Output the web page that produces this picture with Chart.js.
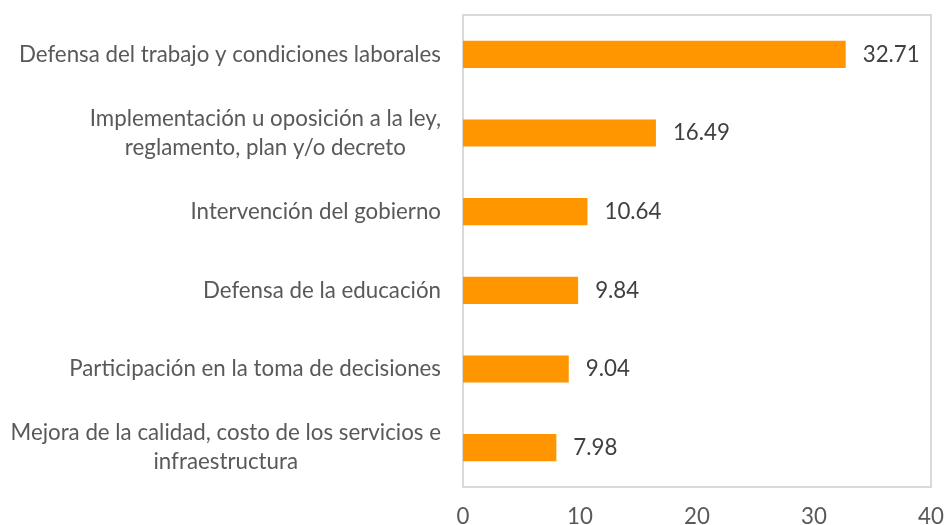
<!DOCTYPE html>
<html>
<head>
<meta charset="utf-8">
<script src="https://cdn.jsdelivr.net/npm/chart.js@4"></script>
<style>
  html, body { margin: 0; padding: 0; background: #fff; overflow: hidden; }
  #wrap { width: 946px; height: 545px; position: relative; }
</style>
</head>
<body>
<div id="wrap"><canvas id="myChart"></canvas></div>
<script>
var categories = [
    ['Defensa del trabajo y condiciones laborales'],
    ['Implementación u oposición a la ley,', 'reglamento, plan y/o decreto'],
    ['Intervención del gobierno'],
    ['Defensa de la educación'],
    ['Participación en la toma de decisiones'],
    ['Mejora de la calidad, costo de los servicios e', 'infraestructura']
];
var values = [32.71, 16.49, 10.64, 9.84, 9.04, 7.98];
var xTicks = [0, 10, 20, 30, 40];

var FONT = 'Lato, "Open Sans", sans-serif';
var FSIZE = 22.3;

// box round the plot area
var boxPlugin = {
    id: 'box',
    beforeDatasetsDraw: function(chart) {
        var a = chart.chartArea, c = chart.ctx;
        c.save();
        c.strokeStyle = '#D9D9D9';
        c.lineWidth = 2;
        c.strokeRect(a.left, a.top, a.right - a.left, a.bottom - a.top);
        c.restore();
    }
};

// category labels: block right-aligned, lines centred within block
var catLabels = {
    id: 'catLabels',
    afterDraw: function(chart) {
        var c = chart.ctx, ys = chart.scales.y;
        var right = chart.chartArea.left - 22;
        var lh = 29;
        c.save();
        c.font = FSIZE + 'px ' + FONT;
        c.fillStyle = '#595959';
        c.textAlign = 'center';
        c.textBaseline = 'middle';
        categories.forEach(function(lines, i) {
            var y = ys.getPixelForValue(i);
            var w = 0;
            lines.forEach(function(l) { w = Math.max(w, c.measureText(l).width); });
            var cx = right - w / 2;
            var y0 = y - (lines.length - 1) * lh / 2;
            lines.forEach(function(l, j) { c.fillText(l, cx, y0 + j * lh); });
        });
        c.restore();
    }
};

// value labels right of each bar
var valueLabels = {
    id: 'valueLabels',
    afterDatasetsDraw: function(chart) {
        var c = chart.ctx, meta = chart.getDatasetMeta(0);
        c.save();
        c.font = FSIZE + 'px ' + FONT;
        c.fillStyle = '#404040';
        c.textAlign = 'left';
        c.textBaseline = 'middle';
        meta.data.forEach(function(bar, i) {
            c.fillText(values[i].toFixed(2), bar.x + 17, bar.y);
        });
        c.restore();
    }
};

var ctx = document.getElementById('myChart').getContext('2d');
var chart = new Chart(ctx, {
    type: 'bar',
    data: {
        labels: categories.map(function(l) { return l.join(' '); }),
        datasets: [{
            data: values,
            backgroundColor: '#FF9600',
            barPercentage: 0.345,
            categoryPercentage: 1
        }]
    },
    options: {
        indexAxis: 'y',
        responsive: true,
        maintainAspectRatio: false,
        animation: false,
        layout: { padding: { top: 15, right: 15, left: 0, bottom: 0 } },
        plugins: {
            legend: { display: false },
            tooltip: { enabled: false }
        },
        scales: {
            x: {
                min: 0,
                max: 40,
                afterBuildTicks: function(s) {
                    s.ticks = xTicks.map(function(v) { return { value: v }; });
                },
                grid: { display: false, drawTicks: false },
                border: { display: false },
                ticks: {
                    padding: 16,
                    color: '#595959',
                    font: { family: FONT, size: FSIZE }
                },
                afterFit: function(s) {
                    s.height = 58;
                    s.paddingLeft = 0;
                    s.paddingRight = 0;
                }
            },
            y: {
                grid: { display: false, drawTicks: false },
                border: { display: false },
                ticks: { display: false },
                afterFit: function(s) { s.width = 463; }
            }
        }
    },
    plugins: [boxPlugin, catLabels, valueLabels]
});
</script>
</body>
</html>
